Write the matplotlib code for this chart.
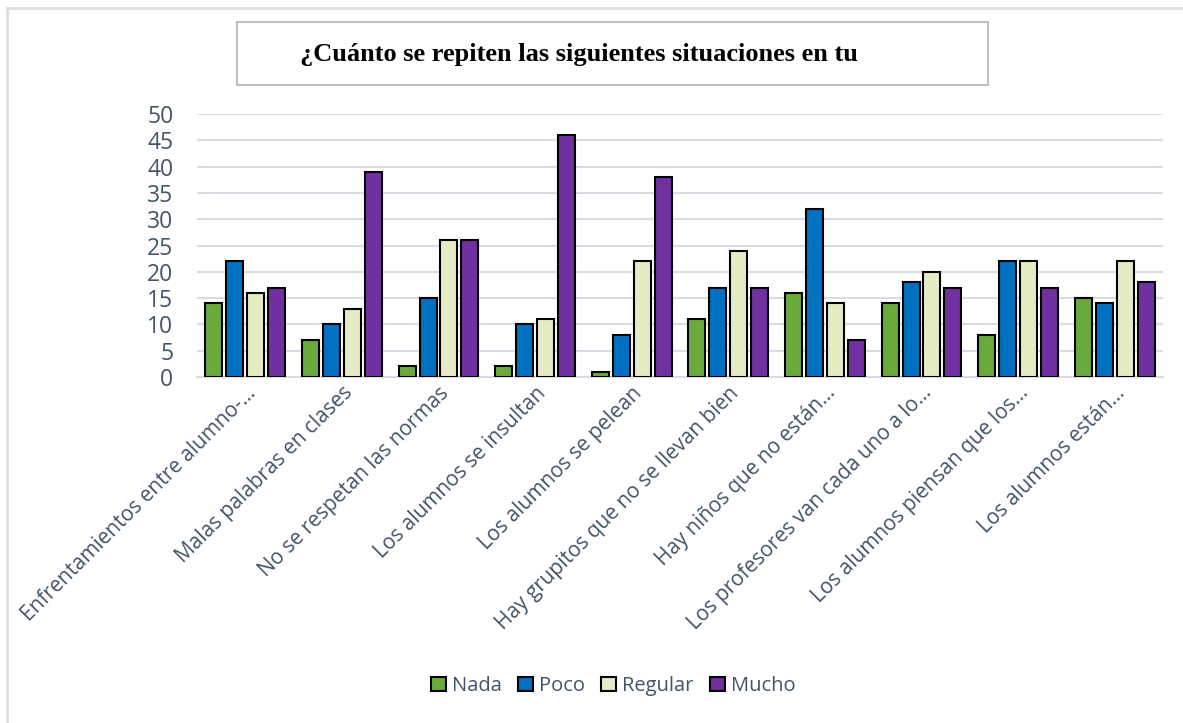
import matplotlib
matplotlib.use('Agg')
import matplotlib.pyplot as plt
from matplotlib.patches import Rectangle
from matplotlib.lines import Line2D
import numpy as np

categories = [
    'Enfrentamientos entre alumno-...',
    'Malas palabras en clases',
    'No se respetan las normas',
    'Los alumnos se insultan',
    'Los alumnos se pelean',
    'Hay grupitos que no se llevan bien',
    'Hay niños que no están...',
    'Los profesores van cada uno a lo...',
    'Los alumnos piensan que los...',
    'Los alumnos están...',
]
nada = [14, 7, 2, 2, 1, 11, 16, 14, 8, 15]
poco = [22, 10, 15, 10, 8, 17, 32, 18, 22, 14]
regular = [16, 13, 26, 11, 22, 24, 14, 20, 22, 22]
mucho = [17, 39, 26, 46, 38, 17, 7, 17, 17, 18]

series = {'Nada': nada, 'Poco': poco, 'Regular': regular, 'Mucho': mucho}
colors = {'Nada': '#6AAA3C', 'Poco': '#0070C0', 'Regular': '#E6EBC6', 'Mucho': '#7030A0'}
text_color = '#44546A'

plt.rcParams['font.family'] = ['Open Sans', 'DejaVu Sans']

fig = plt.figure(figsize=(11.83, 7.23), dpi=100)
ax = fig.add_axes([197 / 1183, 1 - 377 / 723, (1163 - 197) / 1183, (377 - 114) / 723])

x = np.arange(len(categories))
step = 0.217
width = 0.176
for i, (name, vals) in enumerate(series.items()):
    offset = (i - 1.5) * step
    ax.bar(x + offset, vals, width, color=colors[name], edgecolor='black',
           linewidth=1.5, label=name, zorder=3)

ax.set_xlim(-0.5, len(categories) - 0.5)
ax.set_ylim(0, 50)
ax.set_yticks(range(0, 51, 5))
ax.yaxis.grid(True, color='#D9DDE3', linewidth=1.5, zorder=0)
ax.set_axisbelow(True)
for s in ['top', 'right', 'left']:
    ax.spines[s].set_visible(False)
ax.spines['bottom'].set_color('#D9DDE3')
ax.spines['bottom'].set_linewidth(1.5)
ax.tick_params(axis='y', length=0, colors=text_color, labelsize=16.5, pad=17)
ax.tick_params(axis='x', length=0, colors=text_color, labelsize=15, pad=4)
ax.set_xticks(x)
ax.set_xticklabels(categories, rotation=45, ha='right', rotation_mode='anchor')

# legend
ax.legend(loc='center', bbox_to_anchor=(613 / 1183, 1 - 686 / 723),
          bbox_transform=fig.transFigure, ncols=4, frameon=False, fontsize=14.5,
          handlelength=0.75, handleheight=0.75, handletextpad=0.3, columnspacing=0.8,
          labelcolor=text_color)

# outer chart frame (left and top edges visible)
fig.add_artist(Line2D([7 / 1183, 7 / 1183], [0, 1 - 8 / 723], transform=fig.transFigure,
                      color='#DDE1E6', linewidth=2))
fig.add_artist(Line2D([7 / 1183, 1], [1 - 8 / 723, 1 - 8 / 723], transform=fig.transFigure,
                      color='#DDE1E6', linewidth=2))

# title box
fig.add_artist(Rectangle((237 / 1183, 1 - 85 / 723), (988 - 237) / 1183, 63 / 723,
                         transform=fig.transFigure, fill=False, edgecolor='#BFBFBF', linewidth=1.5))
fig.text(300 / 1183, 1 - 54 / 723, '¿Cuánto se repiten las siguientes situaciones en tu',
         family=['Liberation Serif', 'DejaVu Serif'], fontweight='bold', fontsize=19,
         ha='left', va='center', color='black')

fig.savefig('out.png', dpi=100)
